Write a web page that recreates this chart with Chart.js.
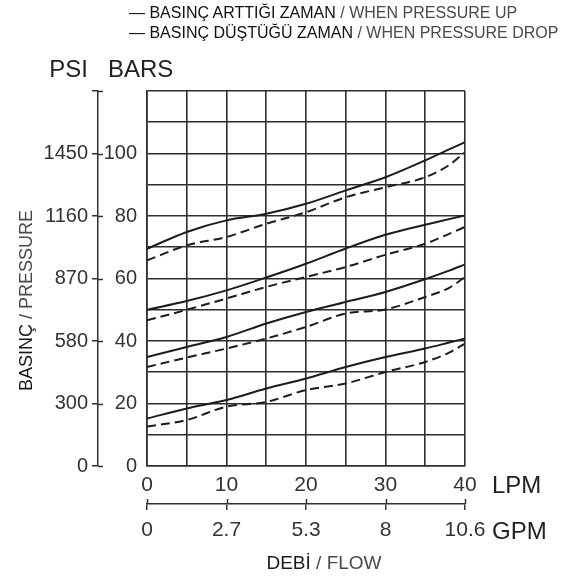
<!DOCTYPE html>
<html>
<head>
<meta charset="utf-8">
<script src="https://cdn.jsdelivr.net/npm/chart.js@4.4.1/dist/chart.umd.min.js"></script>
<style>
  body { margin: 0; background: #fff; }
  #wrap { position: relative; width: 578px; height: 578px; }
  #legend { position: absolute; left: 129px; top: 3px; font: 16px 'Liberation Sans', Arial, sans-serif; line-height: 20px; }
  #legend .tr { color: #111; }
  #legend .en { color: #4a4a4a; }
</style>
</head>
<body>
<div id="wrap">
  <canvas id="flowChart" width="578" height="578"></canvas>
  <div id="legend">
    <div><span class="tr">— BASINÇ ARTTIĞI ZAMAN</span> <span class="en">/ WHEN PRESSURE UP</span></div>
    <div><span class="tr">— BASINÇ DÜŞTÜĞÜ ZAMAN</span> <span class="en">/ WHEN PRESSURE DROP</span></div>
  </div>
</div>
<script>
(function () {

  'use strict';

  // flow in LPM, pressure in bar
  var flowLpm   = [0, 5, 10, 15, 20, 25, 30, 35, 38, 40];

  var up100     = [69.5, 74.9, 78.6, 80.7, 83.9, 88.2, 92.4, 97.8, 101.3, 103.6];
  var drop100   = [65.8, 70.6, 73.3, 77.5, 81.2, 86.0, 89.2, 92.4, 96.3, 100.4];
  var up80      = [50.0, 52.8, 56.2, 60.3, 64.7, 69.6, 74.0, 77.2, 79.0, 80.2];
  var drop80    = [46.6, 50.0, 53.6, 57.3, 60.5, 63.7, 67.6, 71.1, 74.3, 76.5];
  var up60      = [34.9, 38.1, 41.3, 45.6, 49.3, 52.5, 55.7, 59.8, 62.5, 64.5];
  var drop60    = [31.7, 34.7, 37.6, 40.8, 44.5, 48.8, 50.1, 54.1, 57.0, 60.5];
  var up40      = [15.2, 18.4, 21.1, 24.8, 28.0, 31.7, 34.9, 37.6, 39.5, 40.8];
  var drop40    = [12.6, 14.7, 19.0, 20.5, 24.3, 26.4, 30.1, 33.3, 36.3, 39.2];

  // axis labels
  var barTicks  = [0, 20, 40, 60, 80, 100, 120];
  var psiLabels = ['0', '300', '580', '870', '1160', '1450', ''];
  var lpmTicks  = [0, 10, 20, 30, 40];
  var gpmLabels = ['0', '2.7', '5.3', '8', '10.6'];

  var ink = '#1c1c1c';
  var gridInk = '#2e2e2e';
  var numFont = "'Liberation Sans', Arial, sans-serif";
  var txtFont = "'Liberation Sans', Arial, sans-serif";

  function pts(values) {
    return values.map(function (v, i) { return {x: flowLpm[i], y: v}; });
  }

  function line(label, values, dashed) {
    return {
      label: label,
      data: pts(values),
      borderColor: ink,
      borderWidth: 2,
      borderDash: dashed ? [9, 5] : [],
      pointRadius: 0,
      fill: false,
      cubicInterpolationMode: 'monotone'
    };
  }

  // extra texts: unit headers, axis names, and the other half of the crossing ticks
  var labelsPlugin = {
    id: 'flowLabels',
    afterDraw: function (chart) {
      var ctx = chart.ctx;
      var area = chart.chartArea;
      var psi = chart.scales.psi;
      var bar = chart.scales.y;
      var gpm = chart.scales.gpm;
      ctx.save();

      ctx.strokeStyle = '#333';
      ctx.lineWidth = 1.5;
      ctx.beginPath();
      psi.ticks.forEach(function (t) {
        var py = Math.round(psi.getPixelForValue(t.value)) + 0.5;
        ctx.moveTo(psi.right, py);
        ctx.lineTo(psi.right + 5, py);
      });
      gpm.ticks.forEach(function (t) {
        var px = Math.round(gpm.getPixelForValue(t.value)) + 0.5;
        ctx.moveTo(px, gpm.top);
        ctx.lineTo(px, gpm.top - 5);
      });
      ctx.stroke();

      ctx.fillStyle = '#222';
      ctx.textBaseline = 'alphabetic';

      ctx.font = '24px ' + txtFont;
      ctx.textAlign = 'right';
      ctx.fillText('PSI', psi.right - 10, 77);
      ctx.textAlign = 'left';
      ctx.fillText('BARS', bar.left + 10, 77);

      ctx.fillText('LPM', area.right + 27, 493);
      ctx.fillText('GPM', area.right + 27, 539);

      // DEBİ / FLOW
      ctx.font = '19px ' + txtFont;
      var a = 'DEBİ ', b = '/ FLOW';
      var wa = ctx.measureText(a).width, wb = ctx.measureText(b).width;
      var cx = (area.left + area.right) / 2 + 18;
      var x0 = cx - (wa + wb) / 2;
      ctx.fillStyle = '#1a1a1a';
      ctx.fillText(a, x0, 569);
      ctx.fillStyle = '#4a4a4a';
      ctx.fillText(b, x0 + wa, 569);

      // BASINÇ / PRESSURE, rotated
      ctx.translate(32, (area.top + area.bottom) / 2 + 22);
      ctx.rotate(-Math.PI / 2);
      ctx.font = '18px ' + txtFont;
      a = 'BASINÇ '; b = '/ PRESSURE';
      wa = ctx.measureText(a).width; wb = ctx.measureText(b).width;
      x0 = -(wa + wb) / 2;
      ctx.fillStyle = '#1a1a1a';
      ctx.fillText(a, x0, 0);
      ctx.fillStyle = '#4a4a4a';
      ctx.fillText(b, x0 + wa, 0);
      ctx.restore();
    }
  };

  var ctx = document.getElementById('flowChart').getContext('2d');

  new Chart(ctx, {
    type: 'line',
    data: {
      datasets: [
        line('100 up', up100, false),
        line('100 drop', drop100, true),
        line('80 up', up80, false),
        line('80 drop', drop80, true),
        line('60 up', up60, false),
        line('60 drop', drop60, true),
        line('40 up', up40, false),
        line('40 drop', drop40, true)
      ]
    },
    options: {
      responsive: false,
      animation: false,
      layout: { padding: { top: 91, right: 113, bottom: 0, left: 0 } },
      plugins: { legend: { display: false }, tooltip: { enabled: false } },
      scales: {
        x: {
          type: 'linear', position: 'bottom', min: 0, max: 40,
          ticks: {
            stepSize: 5, autoSkip: false, maxRotation: 0, padding: 7,
            color: '#333', font: { family: numFont, size: 21 },
            callback: function (v) { return v % 10 === 0 ? String(v) : ''; }
          },
          grid: { color: gridInk, lineWidth: 1.6, drawTicks: false },
          border: { color: gridInk, width: 1.6 },
          afterFit: function (s) { s.height = 38; }
        },
        gpm: {
          type: 'linear', position: 'bottom', weight: 1, min: 0, max: 40,
          afterBuildTicks: function (s) {
            s.ticks = lpmTicks.map(function (v) { return {value: v}; });
          },
          ticks: {
            autoSkip: false, maxRotation: 0, padding: 8,
            color: '#333', font: { family: numFont, size: 21 },
            callback: function (v, i) { return gpmLabels[i]; }
          },
          grid: { drawOnChartArea: false, color: '#333', lineWidth: 1.5, tickLength: 6 },
          border: { color: '#333', width: 1.5 },
          afterFit: function (s) { s.height = 74; }
        },
        y: {
          type: 'linear', position: 'left', min: 0, max: 120,
          ticks: {
            stepSize: 10, autoSkip: false, padding: 10,
            color: '#333', font: { family: numFont, size: 20 },
            callback: function (v) { return (v % 20 === 0 && v <= 100) ? String(v) : ''; }
          },
          grid: { color: gridInk, lineWidth: 1.6, drawTicks: false },
          border: { color: gridInk, width: 1.6 },
          afterFit: function (s) { s.width = 49; }
        },
        psi: {
          type: 'linear', position: 'left', weight: 1, min: 0, max: 120,
          afterBuildTicks: function (s) {
            s.ticks = barTicks.map(function (v) { return {value: v}; });
          },
          ticks: {
            autoSkip: false, padding: 4,
            color: '#333', font: { family: numFont, size: 20 },
            callback: function (v, i) { return psiLabels[i]; }
          },
          grid: { drawOnChartArea: false, color: '#333', lineWidth: 1.5, tickLength: 6 },
          border: { color: '#333', width: 1.5 },
          afterFit: function (s) { s.width = 98; }
        }
      }
    },
    plugins: [labelsPlugin]
  });

})();
</script>
</body>
</html>
